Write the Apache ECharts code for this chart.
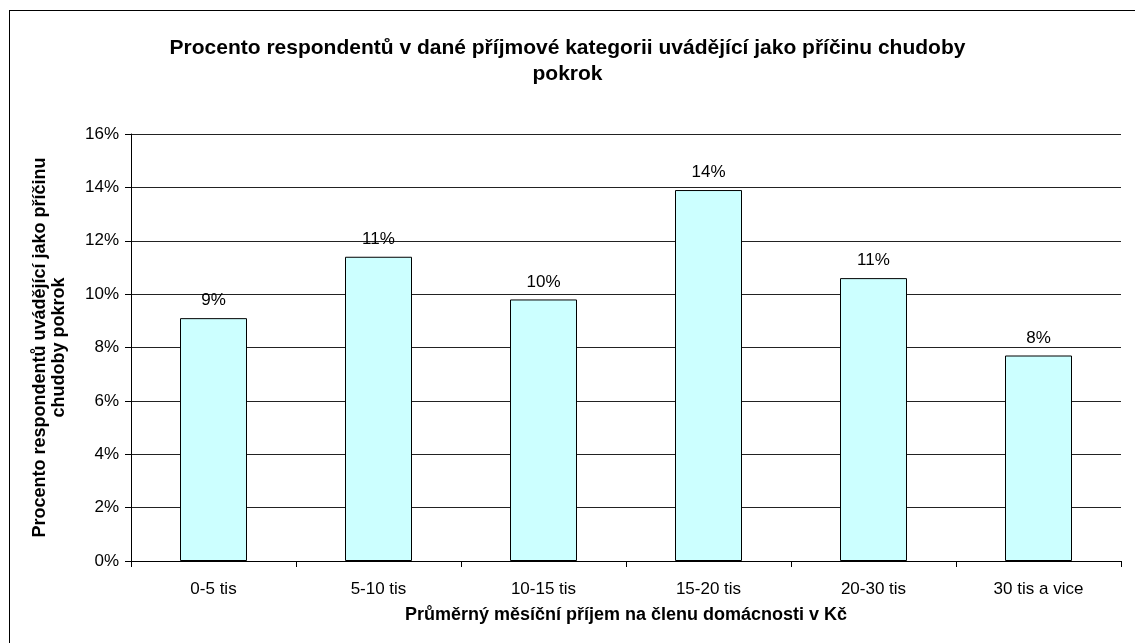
<!DOCTYPE html>
<html>
<head>
<meta charset="utf-8">
<script src="https://cdn.jsdelivr.net/npm/echarts@6/dist/echarts.min.js"></script>
<style>
  html, body { margin: 0; padding: 0; background: #fff; overflow: hidden; }
  .wrap { position: relative; width: 1135px; height: 643px; overflow: hidden; }
  #chart { width: 1135px; height: 643px; }
  .frame { position: absolute; left: 9px; top: 10px; right: -5px; bottom: -5px; border: 1px solid #000; pointer-events: none; }
</style>
</head>
<body>
<div class="wrap">
  <div id="chart"></div>
  <div class="frame"></div>
</div>
<script>
// kategorie příjmu a hodnoty (%)
const categories = ['0-5 tis', '5-10 tis', '10-15 tis', '15-20 tis', '20-30 tis', '30 tis a vice']
const values = [9.1, 11.4, 9.8, 13.9, 10.6, 7.7]

const titleText = 'Procento respondentů v dané příjmové kategorii uvádějící jako příčinu chudoby\npokrok'
const yName = 'Procento respondentů uvádějící jako příčinu\nchudoby pokrok'
const xName = 'Průměrný měsíční příjem na členu domácnosti v Kč'

const font = '"Liberation Sans", Arial, sans-serif'

const myChart = echarts.init(document.getElementById('chart'))
myChart.setOption({
  animation: false,
  textStyle: { fontFamily: font },
  title: {
    text: titleText,
    left: 'center',
    top: 30,
    textStyle: { fontSize: 21, fontWeight: 'bold', color: '#000', lineHeight: 26, fontFamily: font }
  },
  grid: { left: 131, right: 14, top: 134, bottom: 82 },
  xAxis: {
    type: 'category',
    data: categories,
    name: xName,
    nameLocation: 'middle',
    nameGap: 45,
    nameTextStyle: { fontSize: 18, fontWeight: 'bold', color: '#000' },
    axisLine: { lineStyle: { color: '#000', width: 1 } },
    axisTick: { show: true, alignWithLabel: false, length: 6, lineStyle: { color: '#000' } },
    axisLabel: { fontSize: 17, color: '#000', margin: 20 }
  },
  yAxis: {
    type: 'value',
    min: 0,
    max: 16,
    interval: 2,
    name: yName,
    nameLocation: 'middle',
    nameRotate: 90,
    nameGap: 62,
    nameTextStyle: { fontSize: 18, fontWeight: 'bold', color: '#000', lineHeight: 19 },
    axisLine: { show: true, lineStyle: { color: '#000', width: 1 } },
    axisTick: { show: true, length: 6, lineStyle: { color: '#000' } },
    axisLabel: { fontSize: 17, color: '#000', margin: 12, formatter: '{value}%' },
    splitLine: { show: true, lineStyle: { color: '#222', width: 1 } }
  },
  series: [{
    type: 'bar',
    data: values,
    barWidth: 67,
    itemStyle: { color: '#CCFFFF', borderColor: '#000', borderWidth: 1 },
    label: {
      show: true,
      position: 'top',
      distance: 9,
      fontSize: 17,
      color: '#000',
      formatter: p => Math.round(p.value) + '%'
    }
  }]
})
</script>
</body>
</html>
